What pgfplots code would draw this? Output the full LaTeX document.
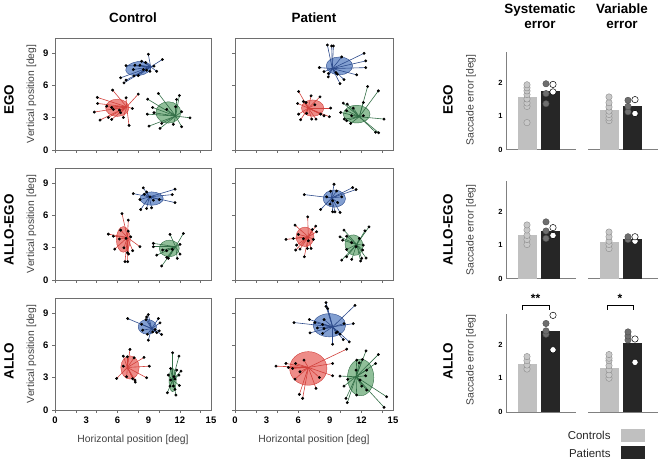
\documentclass[border=0pt]{standalone}
\usepackage{pgfplots}
\pgfplotsset{compat=1.18}
\usepackage{fontspec}
\setmainfont{Liberation Sans}
\definecolor{bfill}{RGB}{108,142,201}
\definecolor{bline}{RGB}{45,75,140}
\definecolor{rfill}{RGB}{235,120,115}
\definecolor{rline}{RGB}{210,65,60}
\definecolor{gfill}{RGB}{125,180,135}
\definecolor{gline}{RGB}{50,110,70}
\definecolor{frame}{RGB}{110,110,110}
\definecolor{ctrl}{RGB}{192,192,192}
\definecolor{pat}{RGB}{38,38,38}
\definecolor{cdot}{RGB}{200,200,200}
\definecolor{cdotl}{RGB}{140,140,140}
\definecolor{pdot}{RGB}{110,110,110}
\newcommand{\confell}[6]{\draw[draw=#2, fill=#1, fill opacity=0.85, line width=0.4pt, rotate around={#6:(axis cs:#3)}] (axis cs:#3) ellipse [x radius=#4, y radius=#5];}
\newcommand{\spokes}[4]{%
 \addplot[#1, line width=0.6pt, quiver={u={#2-\thisrow{x}}, v={#3-\thisrow{y}}}] table[row sep=\\] {x y\\#4};
 \addplot[only marks, mark=*, mark size=1.25pt, black] table[row sep=\\] {x y\\#4};}
\newcommand{\titlefont}{\bfseries\fontsize{13.5}{16}\selectfont}
\newcommand{\labfont}{\fontsize{10.4}{12}\selectfont}
\pgfplotsset{
 scat/.style={scale only axis, width=#1, height=112bp, xmin=0, xmax=15, ymin=0, ymax=10.4,
   axis line style={draw=frame, line width=0.9pt},
   xtick={0,3,...,15}, ytick={0,3,6,9}, minor xtick={0,2,...,14},
   tick align=outside, xtick pos=bottom, ytick pos=left,
   major tick length=3bp, minor tick length=3bp,
   major x tick style={draw=none}, tick style={draw=frame, line width=0.5pt},
   ticklabel style={font=\bfseries\fontsize{9.5}{10}\selectfont},
   /pgf/number format/assume math mode=true},
 noxl/.style={xticklabels={,,,,,}},
 noyl/.style={yticklabels={,,,}},
 bars/.style={scale only axis, width=70bp, height=98bp, xmin=0, xmax=70, ymin=0, ymax=2.9, clip=false,
   axis x line*=bottom, axis y line*=left, xtick=\empty, ytick={0,1,2},
   axis line style={draw=gray, line width=1pt},
   major tick length=0pt, tick style={draw=none},
   ticklabel style={font=\bfseries\fontsize{7.5}{8}\selectfont},
   /pgf/number format/assume math mode=true},
 cbar/.style={ybar, bar width=19, bar shift=0pt, fill=ctrl, draw=none},
 pbar/.style={ybar, bar width=19, bar shift=0pt, fill=pat, draw=none},
 cdots/.style={only marks, mark=*, mark size=3.2bp, mark options={fill=cdot, draw=cdotl, line width=0.4pt}},
 ddots/.style={only marks, mark=*, mark size=3.2bp, mark options={fill=pdot, draw=pdot!70!black, line width=0.4pt}},
 wdots/.style={only marks, mark=*, mark size=3.2bp, mark options={fill=white, draw=black, line width=0.5pt}},
}
\begin{document}
\begin{tikzpicture}
\useasboundingbox (0,0) rectangle (662bp,462bp);
% ---------------- Control EGO
\begin{axis}[scat=156bp, at={(55bp,312bp)}, anchor=south west, noxl]
\confell{bfill}{bline}{8.01,7.56}{1.22}{0.65}{8}
\confell{rfill}{rline}{5.99,3.92}{1.12}{0.80}{0}
\confell{gfill}{gline}{10.90,3.49}{1.20}{0.99}{0}
\spokes{bline}{9.20}{7.72}{8.97 8.89\\10.32 8.40\\8.33 8.24\\8.72 8.12\\6.83 7.84\\7.69 7.87\\8.17 7.87\\9.52 7.78\\8.49 7.47\\8.81 7.41\\9.78 7.31\\9.13 7.31\\7.60 6.88\\8.01 6.91\\6.31 6.70\\6.83 6.48\\6.63 6.23\\7.53 7.47\\}
\spokes{rline}{6.89}{4.01}{5.54 5.56\\4.07 4.88\\8.01 5.19\\6.83 4.85\\4.10 4.32\\4.97 4.07\\3.78 3.52\\5.45 3.95\\5.61 3.77\\7.44 3.86\\6.19 3.70\\6.31 3.46\\4.33 2.78\\5.13 3.02\\5.45 2.84\\6.57 3.02\\7.12 2.28\\}
\spokes{gline}{11.60}{3.15}{9.94 5.25\\11.96 5.06\\11.70 4.69\\8.91 4.72\\9.39 3.95\\8.88 3.33\\9.52 3.46\\10.74 3.77\\11.60 4.01\\12.18 3.55\\12.98 2.99\\10.26 2.47\\9.04 2.22\\10.10 2.01\\11.38 2.38\\12.18 2.16\\}
\end{axis}
% ---------------- Patient EGO
\begin{axis}[scat=158bp, at={(235bp,312bp)}, anchor=south west, noxl, noyl]
\confell{bfill}{bline}{9.91,7.81}{1.25}{0.83}{0}
\confell{rfill}{rline}{7.37,3.89}{1.06}{0.76}{0}
\confell{gfill}{gline}{11.55,3.33}{1.27}{0.82}{0}
\spokes{bline}{9.24}{7.56}{8.77 9.75\\9.18 9.66\\9.34 9.66\\12.25 8.98\\10.13 8.64\\12.41 8.27\\12.41 7.65\\8.01 7.65\\8.45 7.28\\8.86 7.10\\8.86 6.79\\9.59 7.19\\9.72 7.04\\10.35 6.54\\9.97 6.17\\11.55 6.98\\}
\spokes{rline}{6.96}{3.89}{6.04 5.43\\7.22 5.03\\8.07 4.94\\6.49 4.51\\6.74 4.41\\5.95 4.32\\7.59 4.20\\9.08 3.89\\6.04 3.33\\6.23 2.81\\7.28 2.87\\7.69 2.87\\8.13 3.33\\8.45 3.18\\8.96 3.09\\6.80 3.40\\}
\spokes{gline}{11.80}{3.09}{12.59 5.90\\13.61 5.49\\12.18 4.41\\10.28 4.35\\10.66 4.26\\11.23 3.89\\10.60 3.64\\10.03 3.49\\11.08 3.18\\12.18 3.18\\14.15 2.87\\10.60 2.72\\10.98 2.47\\10.38 2.87\\13.35 1.64\\13.64 1.60\\}
\end{axis}
% ---------------- Control ALLO-EGO
\begin{axis}[scat=156bp, at={(55bp,182bp)}, anchor=south west, noxl]
\confell{bfill}{bline}{9.29,7.56}{1.12}{0.62}{0}
\confell{rfill}{rline}{6.57,3.77}{0.67}{1.19}{0}
\confell{gfill}{gline}{10.99,2.93}{0.96}{0.77}{0}
\spokes{bline}{9.07}{7.72}{8.49 8.55\\11.54 8.43\\8.81 8.18\\8.59 7.96\\7.53 8.02\\11.28 7.93\\8.17 7.47\\9.46 7.41\\10.03 7.47\\11.54 7.19\\8.24 6.54\\8.81 6.64\\9.29 6.70\\9.13 7.72\\}
\spokes{rline}{6.96}{3.95}{6.44 6.17\\7.05 5.56\\5.13 4.26\\6.31 4.63\\7.05 4.54\\5.61 4.07\\6.19 3.80\\6.83 3.86\\7.28 4.01\\8.17 3.09\\5.74 2.87\\6.63 2.99\\7.47 2.72\\6.96 2.53\\7.08 2.41\\6.73 1.70\\6.99 1.70\\}
\spokes{gline}{11.60}{3.09}{12.34 4.32\\11.06 4.23\\9.46 3.40\\12.02 3.30\\9.46 3.09\\10.35 2.78\\10.74 2.72\\11.28 2.84\\9.78 2.31\\12.02 2.41\\10.74 2.10\\11.76 2.01\\10.90 2.01\\10.26 1.30\\}
\end{axis}
% ---------------- Patient ALLO-EGO
\begin{axis}[scat=158bp, at={(235bp,182bp)}, anchor=south west, noxl, noyl]
\confell{bfill}{bline}{9.43,7.56}{1.06}{0.80}{0}
\confell{rfill}{rline}{6.65,4.01}{0.85}{0.90}{0}
\confell{gfill}{gline}{11.30,3.24}{0.84}{0.97}{20}
\spokes{bline}{9.18}{7.62}{9.40 8.89\\11.17 8.58\\11.49 8.40\\6.58 7.93\\9.08 8.24\\9.65 8.27\\8.70 7.72\\10.13 7.72\\9.27 7.35\\9.75 7.19\\9.02 7.04\\8.13 6.54\\9.27 6.33\\9.49 6.33\\9.97 6.27\\}
\spokes{rline}{6.96}{4.01}{6.90 5.86\\5.70 5.09\\7.66 5.00\\7.34 4.69\\7.75 4.48\\4.84 3.77\\6.01 4.23\\5.54 3.86\\6.49 3.83\\6.96 3.64\\7.44 3.77\\5.85 3.24\\6.17 2.87\\6.87 2.93\\7.22 2.93\\5.76 2.78\\6.58 2.16\\}
\spokes{gline}{11.55}{3.30}{10.35 4.63\\12.72 4.94\\12.34 4.57\\9.97 4.01\\10.60 4.07\\10.22 3.70\\11.80 3.86\\11.08 3.46\\12.18 3.24\\11.49 3.09\\10.60 2.84\\12.12 2.78\\10.60 2.16\\11.08 1.91\\12.03 2.01\\12.44 2.04\\10.13 1.85\\11.93 1.76\\}
\end{axis}
% ---------------- Control ALLO
\begin{axis}[scat=156bp, at={(55bp,52bp)}, anchor=south west]
\confell{bfill}{bline}{8.88,7.72}{0.88}{0.68}{0}
\confell{rfill}{rline}{7.21,3.95}{0.88}{1.08}{0}
\confell{gfill}{gline}{11.31,2.78}{0.35}{1.08}{0}
\spokes{bline}{9.29}{7.56}{8.97 8.86\\8.81 8.64\\8.75 8.40\\6.99 8.49\\9.94 8.49\\8.33 7.96\\10.10 8.09\\9.62 7.47\\8.43 7.41\\9.39 7.25\\9.78 7.19\\10.03 7.35\\10.26 7.01\\8.88 7.04\\8.97 6.48\\}
\spokes{rline}{6.96}{3.95}{7.21 5.62\\8.56 4.88\\6.57 5.00\\6.96 4.94\\7.60 4.85\\6.57 4.07\\9.07 4.07\\5.93 2.93\\6.89 3.09\\7.47 2.90\\7.69 2.78\\7.72 2.59\\8.81 2.99\\}
\spokes{gline}{11.31}{2.78}{11.31 5.31\\11.92 5.00\\11.12 3.86\\11.70 3.70\\12.12 3.61\\10.90 3.24\\11.44 3.09\\11.92 3.24\\11.12 2.78\\11.54 2.87\\11.06 2.22\\11.38 2.22\\11.96 2.28\\10.80 1.60\\11.54 1.91\\11.63 1.39\\}
\end{axis}
% ---------------- Patient ALLO
\begin{axis}[scat=158bp, at={(235bp,52bp)}, anchor=south west, noyl]
\confell{bfill}{bline}{8.96,7.87}{1.55}{1.08}{0}
\confell{rfill}{rline}{6.96,3.86}{1.77}{1.56}{0}
\confell{gfill}{gline}{11.93,3.02}{1.25}{1.70}{0}
\spokes{bline}{9.27}{7.72}{8.64 9.97\\8.64 9.63\\8.80 9.41\\11.39 9.72\\7.06 8.40\\8.45 8.40\\5.60 8.12\\7.59 8.12\\8.32 7.93\\7.82 7.62\\8.45 7.56\\10.35 8.02\\11.23 8.02\\9.72 7.25\\9.59 7.16\\7.12 7.16\\8.32 7.10\\9.97 7.04\\9.27 6.11\\10.28 6.54\\10.85 6.33\\}
\spokes{rline}{6.96}{3.95}{10.60 5.65\\6.55 4.63\\5.76 4.32\\4.84 4.32\\9.27 4.32\\3.89 4.07\\5.47 3.86\\6.17 3.55\\9.27 3.18\\8.01 3.02\\5.70 2.87\\7.69 2.01\\6.11 1.45\\6.42 1.08\\5.06 3.95\\}
\spokes{gline}{11.49}{3.09}{12.44 5.49\\13.61 5.15\\13.35 4.32\\11.55 4.63\\12.09 4.69\\11.80 4.38\\11.49 3.70\\12.50 3.70\\9.97 3.15\\12.41 3.18\\10.70 2.84\\11.87 2.78\\10.35 2.22\\12.03 2.22\\11.55 1.39\\12.50 1.85\\10.54 1.08\\10.66 0.68\\14.40 1.23\\14.15 0.25\\}
\end{axis}
% ---------------- Bars EGO
\begin{axis}[bars, at={(506bp,312bp)}, anchor=south west]
\addplot[cbar] coordinates {(21,1.58)};
\addplot[pbar] coordinates {(44,1.74)};
\addplot[cdots] coordinates {(21,0.81) (21,1.29) (21,1.39) (21,1.51) (21,1.64) (21,1.75) (21,1.84) (21,1.93)};
\addplot[ddots] coordinates {(40,1.37) (40,1.67) (40,1.96)};
\addplot[wdots] coordinates {(47,1.72) (47,1.94)};
\end{axis}
\begin{axis}[bars, axis y line=none, at={(588bp,312bp)}, anchor=south west]
\addplot[cbar] coordinates {(21,1.17)};
\addplot[pbar] coordinates {(44,1.29)};
\addplot[cdots] coordinates {(21,0.87) (21,0.95) (21,1.05) (21,1.15) (21,1.27) (21,1.40) (21,1.57)};
\addplot[ddots] coordinates {(40,1.13) (40,1.29) (40,1.47)};
\addplot[wdots] coordinates {(47,1.08) (47,1.49)};
\end{axis}
% ---------------- Bars ALLO-EGO
\begin{axis}[bars, at={(506bp,183bp)}, anchor=south west]
\addplot[cbar] coordinates {(21,1.30)};
\addplot[pbar] coordinates {(44,1.41)};
\addplot[cdots] coordinates {(21,1.02) (21,1.17) (21,1.29) (21,1.45) (21,1.60)};
\addplot[ddots] coordinates {(40,1.20) (40,1.42) (40,1.69)};
\addplot[wdots] coordinates {(47,1.29) (47,1.52)};
\end{axis}
\begin{axis}[bars, axis y line=none, at={(588bp,183bp)}, anchor=south west]
\addplot[cbar] coordinates {(21,1.10)};
\addplot[pbar] coordinates {(44,1.17)};
\addplot[cdots] coordinates {(21,0.90) (21,1.02) (21,1.12) (21,1.25) (21,1.39)};
\addplot[ddots] coordinates {(40,1.17) (40,1.25)};
\addplot[wdots] coordinates {(47,1.12) (47,1.25)};
\end{axis}
% ---------------- Bars ALLO
\begin{axis}[bars, at={(506bp,50bp)}, anchor=south west]
\addplot[cbar] coordinates {(21,1.43)};
\addplot[pbar] coordinates {(44,2.39)};
\addplot[cdots] coordinates {(21,1.27) (21,1.39) (21,1.52) (21,1.64)};
\addplot[ddots] coordinates {(40,2.30) (40,2.40) (40,2.62)};
\addplot[wdots] coordinates {(47,1.84) (47,2.86)};
\addplot[black, line width=0.5pt] coordinates {(16,3.03) (16,3.15) (43,3.15) (43,3.03)};
\node[font=\bfseries\fontsize{12}{12}\selectfont] at (axis cs:29.5,3.36) {**};
\end{axis}
\begin{axis}[bars, axis y line=none, at={(588bp,50bp)}, anchor=south west]
\addplot[cbar] coordinates {(21,1.31)};
\addplot[pbar] coordinates {(44,2.05)};
\addplot[cdots] coordinates {(21,1.00) (21,1.10) (21,1.25) (21,1.37) (21,1.52) (21,1.59) (21,1.70)};
\addplot[ddots] coordinates {(40,2.13) (40,2.25) (40,2.37)};
\addplot[wdots] coordinates {(47,1.47) (47,2.16)};
\addplot[black, line width=0.5pt] coordinates {(19,3.03) (19,3.15) (45,3.15) (45,3.03)};
\node[font=\bfseries\fontsize{12}{12}\selectfont] at (axis cs:32,3.36) {*};
\end{axis}
% ---------------- Texts
\node[font=\titlefont] at (133bp,444bp) {Control};
\node[font=\titlefont] at (314bp,444bp) {Patient};
\node[font=\titlefont, align=center, text depth=0pt] at (540bp,446bp) {Systematic\\[-1pt]error};
\node[font=\titlefont, align=center] at (622bp,446bp) {Variable\\[-1pt]error};
\foreach \yy/\tt in {362/EGO, 232/ALLO-EGO, 101/ALLO}{
  \node[font=\titlefont, rotate=90] at (9bp,\yy bp) {\tt};
  \node[font=\titlefont, rotate=90] at (448bp,\yy bp) {\tt};
}
\foreach \yy in {368,238,108}{
  \node[font=\labfont, rotate=90, text=black!75] at (31.5bp,\yy bp) {Vertical position [deg]};
}
\foreach \yy in {362,232,102}{
  \node[font=\labfont, rotate=90, text=black!75] at (471bp,\yy bp) {Saccade error [deg]};
}
\node[font=\labfont, text=black!75] at (133bp,22bp) {Horizontal position [deg]};
\node[font=\labfont, text=black!75] at (314bp,22bp) {Horizontal position [deg]};
\node[font=\fontsize{11.5}{13}\selectfont, anchor=east, text=black!85] at (614bp,27bp) {Controls};
\node[font=\fontsize{11.5}{13}\selectfont, anchor=east, text=black!85] at (614bp,9bp) {Patients};
\fill[ctrl] (621bp,20bp) rectangle (645bp,33bp);
\fill[pat] (621bp,3bp) rectangle (645bp,16bp);
\end{tikzpicture}
\end{document}
